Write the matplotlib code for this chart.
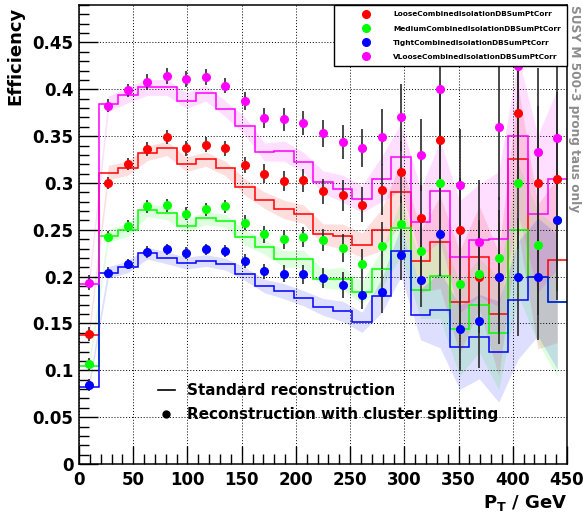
import numpy as np
import matplotlib
matplotlib.use('Agg')
import matplotlib.pyplot as plt
from matplotlib.lines import Line2D
from matplotlib.ticker import MultipleLocator, FixedLocator

plt.rcParams['font.family'] = 'DejaVu Sans'
plt.rcParams['font.weight'] = 'bold'
plt.rcParams['mathtext.default'] = 'bf'

# pT binning: 25 bins of 18 GeV
bin_width = 18
edges = np.arange(0, 451, bin_width)
centers = edges[:-1] + bin_width / 2.

series_names = ['LooseCombinedIsolationDBSumPtCorr',
                'MediumCombinedIsolationDBSumPtCorr',
                'TightCombinedIsolationDBSumPtCorr',
                'VLooseCombinedIsolationDBSumPtCorr']
series_colors = ['#ff0000', '#00ff00', '#0000ff', '#ff00ff']

# reconstruction with cluster splitting (points)
loose_split = [0.1385, 0.300, 0.320, 0.336, 0.349, 0.337, 0.341, 0.337, 0.319,
               0.310, 0.302, 0.303, 0.291, 0.287, 0.277, 0.293, 0.312, 0.263,
               0.346, 0.250, 0.200, 0.200, 0.375, 0.300, 0.304]
medium_split = [0.1065, 0.2425, 0.254, 0.275, 0.276, 0.267, 0.272, 0.275, 0.2575,
                0.245, 0.240, 0.2425, 0.239, 0.231, 0.213, 0.233, 0.256, 0.227,
                0.300, 0.192, 0.203, 0.220, 0.300, 0.234, 0.260]
tight_split = [0.0844, 0.2044, 0.2137, 0.2265, 0.229, 0.2251, 0.229, 0.2272, 0.2169,
               0.2055, 0.203, 0.2023, 0.1987, 0.1912, 0.1806, 0.1841, 0.2229, 0.1959,
               0.2454, 0.1442, 0.1524, 0.1998, 0.1998, 0.1998, 0.261]
vloose_split = [0.1937, 0.3825, 0.399, 0.408, 0.4145, 0.411, 0.413, 0.404, 0.388,
                0.369, 0.368, 0.364, 0.353, 0.344, 0.3376, 0.3494, 0.370, 0.330,
                0.400, 0.298, 0.237, 0.360, 0.425, 0.333, 0.348]
split_err = [0.007, 0.006, 0.006, 0.007, 0.007, 0.007, 0.007, 0.007, 0.008,
             0.009, 0.010, 0.011, 0.012, 0.015, 0.017, 0.025, 0.030, 0.032,
             0.050, 0.050, 0.055, 0.065, 0.070, 0.075, 0.085]

# standard reconstruction (histograms)
loose_std = [0.138, 0.311, 0.316, 0.3316, 0.337, 0.320, 0.3255, 0.3155, 0.2956,
             0.2817, 0.2717, 0.2667, 0.2454, 0.2429, 0.2336, 0.250, 0.290, 0.2165,
             0.2368, 0.1727, 0.2208, 0.160, 0.3255, 0.200, 0.2176]
medium_std = [0.105, 0.2436, 0.250, 0.271, 0.2678, 0.254, 0.2625, 0.2596, 0.2418,
              0.2318, 0.219, 0.219, 0.198, 0.198, 0.1834, 0.208, 0.252, 0.1855,
              0.2005, 0.1439, 0.1695, 0.1396, 0.250, 0.200, 0.173]
tight_std = [0.0826, 0.2044, 0.2105, 0.225, 0.220, 0.2144, 0.2172, 0.2133, 0.203,
             0.190, 0.1845, 0.177, 0.1677, 0.163, 0.1513, 0.1795, 0.2272, 0.1595,
             0.1645, 0.1246, 0.136, 0.120, 0.175, 0.1998, 0.1734]
vloose_std = [0.1923, 0.3843, 0.394, 0.402, 0.402, 0.388, 0.396, 0.379, 0.361,
              0.333, 0.334, 0.322, 0.301, 0.294, 0.283, 0.304, 0.328, 0.258,
              0.291, 0.221, 0.239, 0.240, 0.350, 0.267, 0.304]
std_err = [0.005, 0.007, 0.007, 0.007, 0.007, 0.007, 0.007, 0.007, 0.008,
           0.008, 0.009, 0.009, 0.010, 0.012, 0.012, 0.020, 0.030, 0.030,
           0.045, 0.050, 0.050, 0.060, 0.070, 0.070, 0.080]

split_all = [loose_split, medium_split, tight_split, vloose_split]
std_all = [loose_std, medium_std, tight_std, vloose_std]
err_scale = [1.1, 1.0, 0.9, 1.2]

fig = plt.figure(figsize=(5.83, 5.16), dpi=100)
ax = fig.add_axes([0.1355, 0.1008, 0.8371, 0.8895])

# bands + histograms
for vals, col, sc in zip(std_all, series_colors, err_scale):
    v = np.array(vals)
    e = np.array(std_err) * sc
    ax.fill_between(centers, v - e, v + e, color=col, alpha=0.13, lw=0,
                    zorder=1)
    ax.stairs(v, edges, baseline=None, color=col, lw=1.1, zorder=2)

# error bars first, then markers on top
for vals, sc in zip(split_all, err_scale):
    ax.errorbar(centers, vals, yerr=np.array(split_err) * sc, fmt='none',
                ecolor='#2a2a2a', elinewidth=1.2, capsize=0, zorder=3)
for vals, col in zip(split_all, series_colors):
    ax.plot(centers, vals, 'o', color=col, ms=5.5, mec=col, zorder=4)

ax.set_xlim(0, 450)
ax.set_ylim(0, 0.49)
ax.xaxis.set_major_locator(MultipleLocator(50))
ax.xaxis.set_minor_locator(MultipleLocator(10))
yticks = [0, 0.05, 0.1, 0.15, 0.2, 0.25, 0.3, 0.35, 0.4, 0.45]
ax.yaxis.set_major_locator(FixedLocator(yticks))
ax.set_yticklabels(['0', '0.05', '0.1', '0.15', '0.2', '0.25', '0.3', '0.35',
                    '0.4', '0.45'])
ax.yaxis.set_minor_locator(MultipleLocator(0.01))
ax.tick_params(which='both', direction='in', top=False, right=False,
               labelsize=12, width=1)
ax.tick_params(axis='y', which='major', length=14, pad=4)
ax.tick_params(axis='y', which='minor', length=7)
ax.tick_params(axis='x', which='major', length=13, pad=5)
ax.tick_params(axis='x', which='minor', length=7)
for s in ax.spines.values():
    s.set_linewidth(1.1)
ax.grid(True, which='major', color='black', linestyle=(0, (1, 2)), lw=0.7)

ax.set_ylabel('Efficiency', fontsize=13, fontweight='bold', loc='top')
ax.yaxis.set_label_coords(-0.111, 0.996)
ax.set_xlabel(r'P$_{T}$ / GeV', fontsize=13, fontweight='bold', loc='right',
              labelpad=3)

# first legend: working points
h1 = [Line2D([], [], ls='none', marker='o', color=c, ms=5.5) for c in series_colors]
leg1 = ax.legend(h1, series_names, loc='upper right', bbox_to_anchor=(1.0, 1.0),
                 prop={'size': 5.3, 'weight': 'bold'}, frameon=True,
                 fancybox=False, framealpha=1, edgecolor='black',
                 handlelength=6.9, handletextpad=0.27, labelspacing=1.09,
                 borderpad=0.85, borderaxespad=0)
leg1.get_frame().set_linewidth(1.0)
ax.add_artist(leg1)

# second legend: reconstruction type
h2 = [Line2D([], [], color='black', lw=1.2),
      Line2D([], [], ls='none', marker='o', color='black', ms=5)]
ax.legend(h2, ['Standard reconstruction', 'Reconstruction with cluster splitting'],
          loc='upper left', bbox_to_anchor=(158 / 583., 1 - 383 / 516.),
          bbox_transform=fig.transFigure, frameon=False,
          prop={'size': 10.9, 'weight': 'bold'}, handlelength=1.1,
          handletextpad=0.8, labelspacing=0.62, borderpad=0, borderaxespad=0)

fig.text(0.986, 0.99, 'SUSY M 500-3 prong taus only', rotation=-90,
         ha='center', va='top', color='#8c8c8c', fontsize=8.7, fontweight='bold')

fig.savefig('out.png', dpi=100)
